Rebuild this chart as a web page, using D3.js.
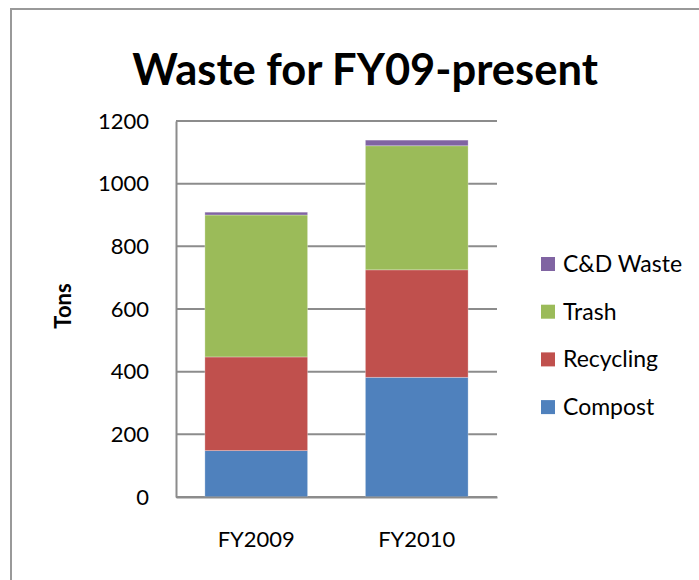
<!DOCTYPE html>
<html><head><meta charset="utf-8">
<script src="https://cdn.jsdelivr.net/npm/d3@7"></script>
<style>body{margin:0;background:#fff;} svg{display:block;}</style>
</head><body>
<svg id="chart" width="699" height="580"></svg>
<script>
const categories = ["FY2009", "FY2010"];
const compost   = [148, 382];
const recycling = [299, 343];
const trash     = [453, 396];
const cdWaste   = [9, 18];
const seriesNames = ["Compost", "Recycling", "Trash", "C&D Waste"];
const seriesColors = ["#4F81BD", "#C0504D", "#9BBB59", "#8064A2"];
const yTicks = [0, 200, 400, 600, 800, 1000, 1200];

(function () {
const rows = categories.map((c, i) => ({cat: c, "Compost": compost[i], "Recycling": recycling[i], "Trash": trash[i], "C&D Waste": cdWaste[i]}));

const svg = d3.select("#chart");
const font = "Lato, 'Open Sans', sans-serif";

// outer border
svg.append("rect").attr("x", 11).attr("y", 9).attr("width", 720).attr("height", 600)
  .attr("fill", "#fff").attr("stroke", "#999").attr("stroke-width", 2);

const pLeft = 176, pRight = 497, pTop = 121, pBottom = 497;
const x = d3.scaleBand().domain(categories).range([pLeft, pRight]).paddingInner(0.36).paddingOuter(0.18);
const y = d3.scaleLinear().domain([0, 1200]).range([pBottom, pTop]);

// gridlines
svg.append("g").selectAll("line").data(yTicks).join("line")
  .attr("x1", pLeft).attr("x2", pRight).attr("y1", d => y(d)).attr("y2", d => y(d))
  .attr("stroke", "#8c8c8c").attr("stroke-width", 2);

// y axis
const yAxis = svg.append("g").attr("transform", `translate(${pLeft},0)`)
  .call(d3.axisLeft(y).tickValues(yTicks).tickFormat(d3.format("d")).tickSize(0).tickPadding(27));
yAxis.select(".domain").attr("stroke", "#8c8c8c").attr("stroke-width", 2);
yAxis.selectAll("text").attr("font-family", font).attr("font-size", 22).attr("fill", "#000");

// stacked bars
const stack = d3.stack().keys(seriesNames)(rows);
svg.append("g").selectAll("g").data(stack).join("g")
  .attr("fill", (d, i) => seriesColors[i])
  .selectAll("rect").data(d => d).join("rect")
  .attr("x", d => x(d.data.cat))
  .attr("width", x.bandwidth())
  .attr("y", d => y(d[1]))
  .attr("height", d => y(d[0]) - y(d[1]))
  .attr("stroke", "rgba(255,255,255,0.35)").attr("stroke-width", 0.8);

// x axis
const xAxis = svg.append("g").attr("transform", `translate(0,${pBottom})`)
  .call(d3.axisBottom(x).tickSize(0).tickPadding(34));
xAxis.select(".domain").attr("stroke", "#8c8c8c").attr("stroke-width", 2);
xAxis.selectAll("text").attr("font-family", font).attr("font-size", 22).attr("fill", "#000");

// title
svg.append("text").attr("x", 365).attr("y", 85).attr("text-anchor", "middle")
  .attr("font-family", font).attr("font-weight", "bold").attr("font-size", 43.5)
  .text("Waste for FY09-present");

// y label
svg.append("text").attr("transform", "translate(71,306) rotate(-90)").attr("text-anchor", "middle")
  .attr("font-family", font).attr("font-weight", "bold").attr("font-size", 22)
  .text("Tons");

// legend
const legendOrder = [3, 2, 1, 0];
const lg = svg.append("g").selectAll("g").data(legendOrder).join("g")
  .attr("transform", (d, i) => `translate(541,${264 + i * 47.7})`);
lg.append("rect").attr("x", 0).attr("y", -7).attr("width", 14).attr("height", 14)
  .attr("fill", d => seriesColors[d]);
lg.append("text").attr("x", 22).attr("y", 8).attr("font-family", font).attr("font-size", 23)
  .text(d => seriesNames[d]);
})();
</script>
</body></html>
